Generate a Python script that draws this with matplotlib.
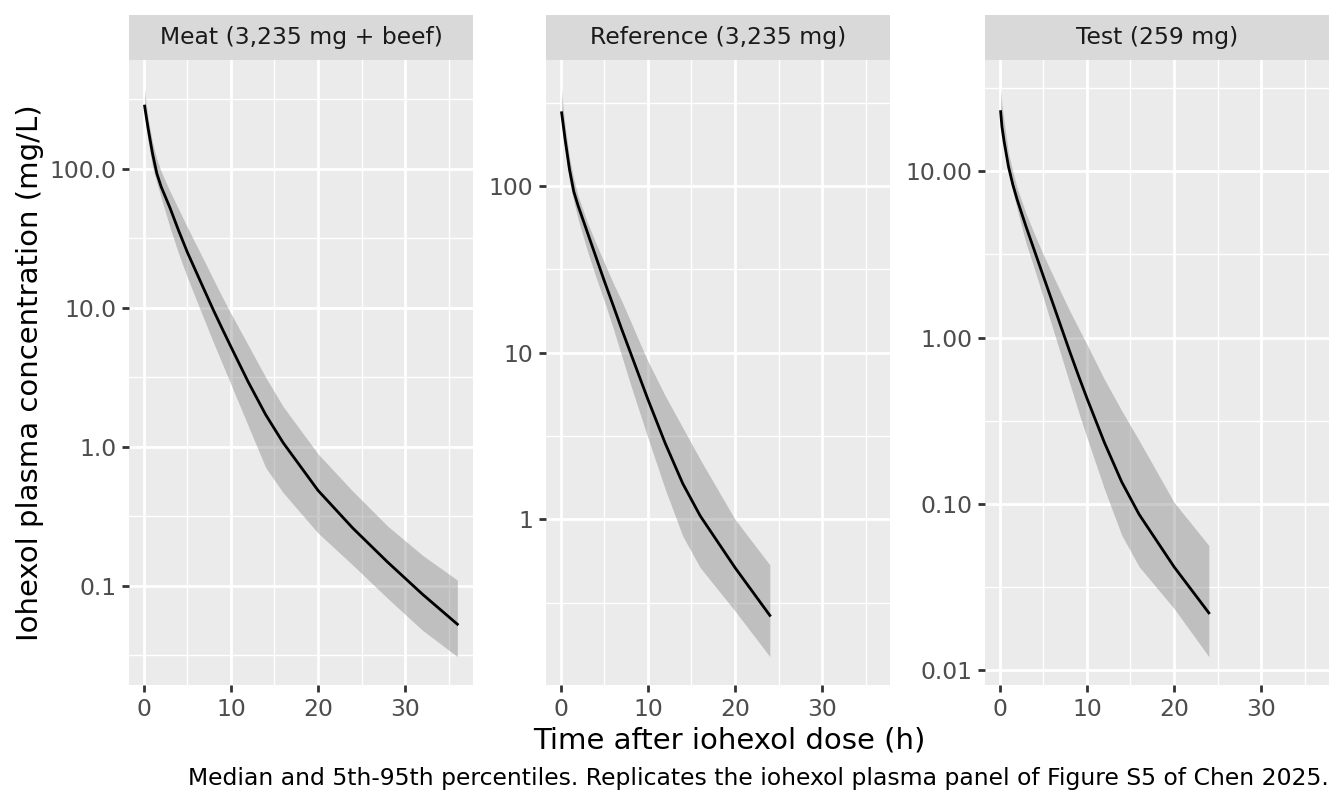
import numpy as np
import matplotlib
matplotlib.use("Agg")
import matplotlib.pyplot as plt
from matplotlib.ticker import FixedLocator, FixedFormatter, NullFormatter

# time grid (h)
t24 = [0.1, 0.25, 0.5, 1, 1.5, 2, 3, 4, 5, 6, 7, 8, 9, 10, 12, 14, 16, 20, 24]
t36 = t24 + [28, 32, 36]

# Meat (3,235 mg + beef)
meat_med = [282, 245, 195, 129, 92.3, 74.1, 52.5, 35.9, 25.1, 18.2, 13.2, 9.6, 7.08, 5.25,
            2.92, 1.70, 1.07, 0.486, 0.26, 0.148, 0.087, 0.053]
meat_hi = [378, 302, 229, 155, 117, 95.5, 69, 51.3, 38, 28.5, 21.4, 16.0, 12.0, 9.12,
           5.37, 3.16, 1.95, 0.89, 0.479, 0.269, 0.166, 0.11]
meat_lo = [251, 204, 158, 103.5, 79.4, 61.7, 38, 24.5, 16.6, 11.5, 8.04, 5.62, 3.98, 2.82,
           1.41, 0.708, 0.468, 0.24, 0.141, 0.0813, 0.0479, 0.031]

# Reference (3,235 mg)
ref_med = [275, 240, 190, 126, 92.3, 75.9, 53.7, 38, 26.9, 19.3, 13.8, 10.0, 7.24, 5.25,
           2.85, 1.64, 1.05, 0.513, 0.265]
ref_hi = [385, 302, 229, 148, 110, 87, 61.7, 45.7, 34.7, 26.3, 20.4, 15.5, 11.7, 8.9,
          5.5, 3.55, 2.29, 1.0, 0.533]
ref_lo = [251, 204, 162, 107, 80.4, 63, 41.7, 28.8, 20.4, 14.1, 9.55, 6.46, 4.47, 3.09,
          1.51, 0.794, 0.513, 0.282, 0.15]

# Test (259 mg)
test_med = [22.9, 18.6, 15.1, 10.7, 8.32, 6.76, 4.68, 3.31, 2.34, 1.66, 1.175, 0.832,
            0.596, 0.432, 0.234, 0.135, 0.0861, 0.0417, 0.022]
test_hi = [31.6, 25.1, 20.0, 12.9, 10.0, 7.94, 5.62, 4.17, 3.16, 2.43, 1.88, 1.46,
           1.15, 0.912, 0.562, 0.363, 0.24, 0.102, 0.056]
test_lo = [21.4, 17.4, 14.1, 10.0, 7.6, 5.9, 3.72, 2.57, 1.74, 1.17, 0.794, 0.537,
           0.363, 0.251, 0.123, 0.0646, 0.0417, 0.0234, 0.012]

panels = ["Meat (3,235 mg + beef)", "Reference (3,235 mg)", "Test (259 mg)"]
ybreaks = [[0.1, 1, 10, 100], [1, 10, 100], [0.01, 0.1, 1, 10]]
ylabels = [["0.1", "1.0", "10.0", "100.0"], ["1", "10", "100"],
           ["0.01", "0.10", "1.00", "10.00"]]
xbreaks = [0, 10, 20, 30]

W, H = 1344, 806
fig = plt.figure(figsize=(W / 100, H / 100), dpi=100)
fig.patch.set_facecolor("white")

lefts = [129, 546, 985]
pw = 344
top, bot, strip_top = 60, 685, 15

series = [(t36, meat_med, meat_lo, meat_hi),
          (t24, ref_med, ref_lo, ref_hi),
          (t24, test_med, test_lo, test_hi)]

xmin, xmax = min(t36), max(t36)
xpad = 0.05 * (xmax - xmin)

for i, (tt, med, lo, hi) in enumerate(series):
    ax = fig.add_axes([lefts[i] / W, 1 - bot / H, pw / W, (bot - top) / H])
    ax.set_facecolor("#EBEBEB")
    for s in ax.spines.values():
        s.set_visible(False)
    ax.fill_between(tt, lo, hi, color="#7F7F7F", alpha=0.4, lw=0, zorder=2)
    ax.plot(tt, med, color="black", lw=2, zorder=3)
    ax.set_yscale("log")
    l0, l1 = np.log10(min(lo)), np.log10(max(hi))
    yp = 0.05 * (l1 - l0)
    ax.set_ylim(10 ** (l0 - yp), 10 ** (l1 + yp))
    ax.set_xlim(xmin - xpad, xmax + xpad)

    ax.yaxis.set_major_locator(FixedLocator(ybreaks[i]))
    ax.yaxis.set_major_formatter(FixedFormatter(ylabels[i]))
    lb = np.log10(ybreaks[i])
    minors = 10 ** np.arange(lb[0] - 1.5, lb[-1] + 1.6, 1.0)
    ax.yaxis.set_minor_locator(FixedLocator(minors))
    ax.yaxis.set_minor_formatter(NullFormatter())
    ax.xaxis.set_major_locator(FixedLocator(xbreaks))
    ax.xaxis.set_minor_locator(FixedLocator([5, 15, 25, 35]))

    ax.grid(True, which="major", color="white", lw=2, zorder=1)
    ax.grid(True, which="minor", color="white", lw=1, zorder=1)
    ax.set_axisbelow(True)
    ax.tick_params(which="major", length=5.1, width=2, color="#333333",
                   labelsize=16.9, labelcolor="#4D4D4D", pad=4.1)
    ax.tick_params(which="minor", length=0)

    sax = fig.add_axes([lefts[i] / W, 1 - top / H, pw / W, (top - strip_top) / H])
    sax.set_facecolor("#D9D9D9")
    for s in sax.spines.values():
        s.set_visible(False)
    sax.set_xticks([])
    sax.set_yticks([])
    sax.text(0.5, 0.5, panels[i], ha="center", va="center", fontsize=16.9,
             color="#1A1A1A", transform=sax.transAxes)

fig.text(30 / W, 1 - 372.5 / H, "Iohexol plasma concentration (mg/L)",
         rotation=90, ha="center", va="center", fontsize=21, color="black")
fig.text(729 / W, 1 - 740 / H, "Time after iohexol dose (h)",
         ha="center", va="center", fontsize=21, color="black")
fig.text(1329 / W, 1 - 778 / H,
         "Median and 5th-95th percentiles. Replicates the iohexol plasma panel of Figure S5 of Chen 2025.",
         ha="right", va="center", fontsize=16.9, color="black")

fig.savefig("out.png", dpi=100)
